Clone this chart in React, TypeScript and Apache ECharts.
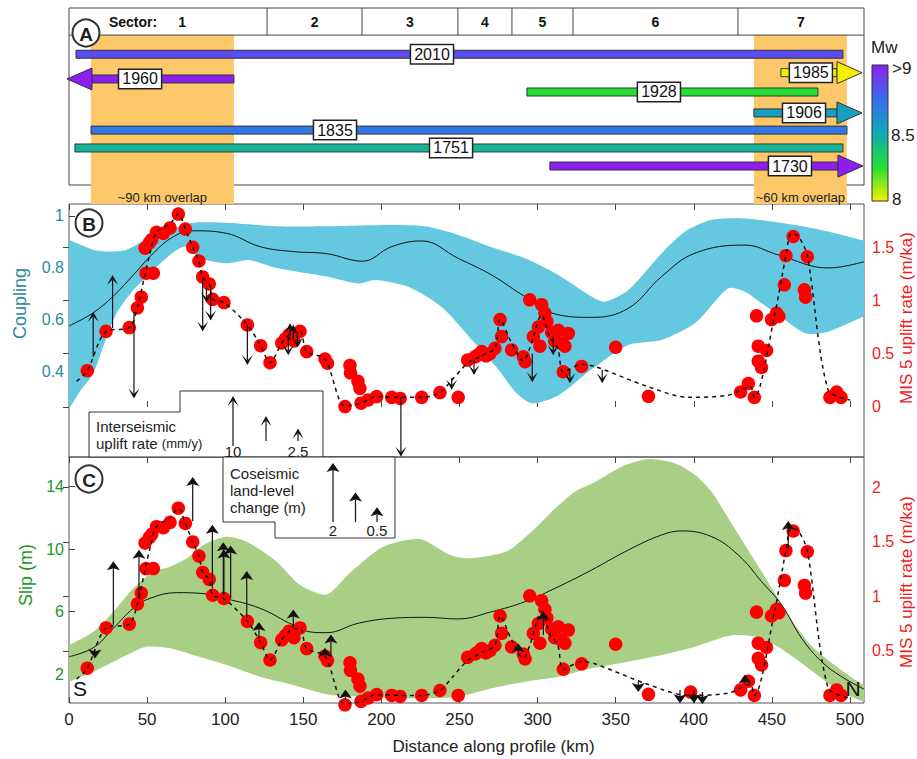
import { useEffect, useRef } from "react";
import * as echarts from "echarts";

const FONT = '"Liberation Sans", Arial, Helvetica, sans-serif';
const KM_MAX = 509;
const KM_TICKS = [0, 50, 100, 150, 200, 250, 300, 350, 400, 450, 500];

// ---------- Panel A: sectors, overlaps and historical ruptures ----------
const sectorEdgesKm = [0, 126.8, 187.6, 249, 283.6, 322.7, 428.3, 509];
const sectorNames = ["1", "2", "3", "4", "5", "6", "7"];

const overlapStartKm = [14, 438.5];
const overlapEndKm = [105.6, 498];
const overlapLabels = ["~90 km overlap", "~60 km overlap"];

const ruptureYears = ["2010", "1960", "1985", "1928", "1906", "1835", "1751", "1730"];
const ruptureStartKm = [4.5, -1.3, 455.8, 293.2, 438.5, 14.1, 3.8, 307.9];
const ruptureEndKm = [495.5, 105.6, 507.7, 479.5, 507.7, 498.1, 495.5, 508.3];
const ruptureArrow = ["none", "left", "right", "none", "right", "none", "none", "right"];
const ruptureMw = [8.85, 9.5, 8.0, 8.25, 8.55, 8.7, 8.45, 9.2];
const ruptureLane = [2.56, 3.93, 3.58, 4.65, 5.81, 6.76, 7.75, 8.75];
const ruptureLabelKm = [232.4, 45.5, 475, 377.7, 470.6, 170.3, 244.6, 461.6];

// Mw colour scale (also drawn as the colour bar)
const mwStops: [number, string][] = [
  [8.0, "#f2f200"],
  [8.25, "#22e034"],
  [8.5, "#10aab4"],
  [8.75, "#3a6cf0"],
  [9.0, "#8b1ff0"],
];
const mwBarLabels = [">9", "8.5", "8"];

// ---------- Panel B: interseismic coupling ----------
const couplingUpper: [number, number][] = [
  [-5, 0.91], [0, 0.908], [15.6, 0.87], [26.2, 0.863], [36.9, 0.87], [49.7, 0.91], [64.7, 0.946],
  [79.6, 0.974], [101, 0.974], [133, 0.96], [165, 0.96], [206.6, 0.965], [227.9, 0.96],
  [249.2, 0.927], [270.6, 0.88], [291.9, 0.837], [313.3, 0.773], [334.6, 0.69], [343.1, 0.67],
  [358.1, 0.715], [379.4, 0.856], [394.4, 0.94], [411.5, 0.985], [432.8, 0.99], [464.8, 0.965],
  [486.1, 0.94], [509, 0.905], [515, 0.9],
];
const couplingLower: [number, number][] = [
  [-5, 0.24], [0, 0.26], [7, 0.325], [15.6, 0.395], [22, 0.5], [30.5, 0.626], [41.2, 0.715],
  [51.9, 0.78], [64.7, 0.85], [74.3, 0.882], [83.9, 0.837], [101, 0.818], [115.9, 0.83],
  [133, 0.8], [165, 0.767], [185.2, 0.74], [195.9, 0.754], [217.2, 0.728], [238.6, 0.65],
  [259.9, 0.51], [274.8, 0.41], [285.5, 0.325], [296.2, 0.28], [313.3, 0.31], [334.6, 0.41],
  [358.1, 0.504], [379.4, 0.523], [400.8, 0.587], [422.1, 0.722], [432.8, 0.709], [443.5, 0.664],
  [456.3, 0.61], [471.2, 0.549], [486.1, 0.555], [509, 0.613], [515, 0.62],
];
const couplingMean: [number, number][] = [
  [0, 0.577], [15.6, 0.628], [28.4, 0.692], [41.2, 0.773], [54, 0.857], [66.8, 0.92],
  [79.6, 0.943], [101, 0.933], [122.3, 0.882], [143.6, 0.863], [165, 0.855], [188, 0.826],
  [206.6, 0.882], [225.8, 0.904], [249.2, 0.837], [270.6, 0.773], [291.9, 0.69], [313.3, 0.62],
  [334.6, 0.61], [358.1, 0.645], [379.4, 0.767], [400.8, 0.857], [432.8, 0.888], [454.1, 0.85],
  [486.1, 0.8], [509, 0.824],
];

// interseismic uplift arrows: [km, tail (m/ka axis), rate mm/y]
const interseismicArrows: [number, number, number][] = [
  [15.5, 0.47, 9], [27.9, 0.74, 10.6], [41.6, 0.89, -17.3], [85.6, 1.21, -10.7], [88, 1.12, -3],
  [90.7, 1.13, -6.8], [114.2, 0.77, -8], [140.4, 0.66, -3.7], [141.5, 0.63, 3.3], [143.6, 0.63, 3],
  [146.2, 0.69, -2.8], [212.5, 0.09, -11.9], [245, 0.27, -2.3], [259.3, 0.44, -3], [296.6, 0.5, -5.7],
  [310, 0.66, -3.7], [320.7, 0.35, -2.7], [341.4, 0.35, -2.7],
];
const interseismicLegendRates = [10, 5, 2.5];

// ---------- Panel C: coseismic slip ----------
const slipUpper: [number, number][] = [
  [-5, 3.6], [0, 3.87], [15.6, 4.72], [28.4, 6.0], [41.2, 7.5], [54, 8.56], [64.7, 8.88], [75.4, 9.42],
  [86, 10.27], [101, 10.8], [113.8, 10.48], [133, 9.2], [147.9, 7.71], [165, 7.1], [179.9, 8.5],
  [201.2, 10.16], [224.7, 10.65], [244, 9.63], [255, 9.42], [270, 9.6], [281.2, 9.9], [297, 11.2],
  [310, 12.5], [323.9, 13.68], [336.7, 14.3], [353.8, 15.28], [370.9, 15.77], [388, 15.5],
  [400.8, 14.75], [411.5, 13.68], [422.1, 11.98], [432.8, 10.27], [443.5, 8.56], [454.1, 6.86],
  [464.8, 5.15], [475.5, 3.8], [486.1, 2.9], [496.8, 2.1], [509, 1.3], [515, 1.1],
];
const slipLower: [number, number][] = [
  [-5, 1.3], [0, 1.52], [15.6, 2.16], [28.4, 2.8], [41.2, 3.44], [49.7, 3.76], [64.7, 3.66],
  [79.6, 3.23], [101, 2.59], [122.3, 1.84], [143.6, 1.31], [165, 0.72], [185.2, 0.56],
  [227.9, 0.46], [249.2, 0.56], [270.6, 1.1], [291.9, 1.52], [313.3, 1.84], [334.6, 2.38],
  [358.1, 2.8], [379.4, 3.23], [400.8, 3.76], [417.8, 4.34], [426.4, 4.51], [439.2, 4.4],
  [452, 3.87], [464.8, 3.02], [481.9, 1.74], [490.4, 1.1], [503.2, 0.46], [509, 0.25], [515, 0.2],
];
const slipMean: [number, number][] = [
  [0, 3.12], [15.6, 3.7], [28.4, 4.94], [41.2, 6.22], [51.9, 6.86], [68.9, 7.22], [83.9, 7.18],
  [101, 6.82], [122.3, 6.22], [143.6, 5.15], [156.4, 4.68], [165, 4.66], [185.2, 5.26],
  [206.6, 5.58], [227.9, 5.64], [249.2, 5.54], [270.6, 6.0], [291.9, 6.64], [313.3, 7.6],
  [334.6, 8.67], [358.1, 9.95], [379.4, 10.91], [392.3, 11.17], [411.5, 10.8], [428.5, 9.63],
  [443.5, 7.92], [456.3, 6.43], [469.1, 4.3], [481.9, 2.8], [494.7, 1.84], [509, 1.05],
];

// coseismic land-level change arrows: [km, tail (m/ka axis), change m]
const coseismicArrows: [number, number, number][] = [
  [16.6, 0.51, -0.3], [28.4, 0.74, 2.15], [44.8, 0.98, 1.65], [79.2, 1.69, 1.5], [91.8, 1.075, 2.15],
  [98.8, 1.01, 1.8], [99.2, 1.01, 1.55], [103.5, 0.98, 1.8], [113.8, 0.8, 1.6], [121.6, 0.61, 0.57],
  [143.6, 0.71, 0.62], [163.9, 0.46, 0.25], [167.7, 0.445, 0.75], [177, 0.05, 0.35], [287.6, 0.46, 0.4],
  [303.7, 0.645, 0.8], [364.5, 0.215, -0.35], [391.2, 0.14, -0.45], [400.1, 0.14, -0.45],
  [405.5, 0.12, -0.4], [432.8, 0.2, 0.3], [460.5, 1.43, 0.97],
];
const coseismicLegendChanges = [2, 1, 0.5];

// ---------- MIS 5 marine terrace uplift rates (both panels) ----------
const mis5Dots: [number, number][] = [
  [11.7, 0.34], [23.7, 0.71], [38.6, 0.745], [43.8, 0.93], [46.3, 1.03], [48.7, 1.49], [49.3, 1.255],
  [51.4, 1.54], [53, 1.57], [54, 1.255], [56, 1.64], [60.4, 1.63], [64.7, 1.68], [70, 1.81],
  [74.5, 1.67], [79.2, 1.5], [83.2, 1.37], [85.6, 1.22], [89.8, 1.155], [92, 1.01], [99.2, 0.98],
  [114.2, 0.77], [122.7, 0.575], [128.7, 0.415], [136.2, 0.6], [138.5, 0.64], [141, 0.68],
  [144, 0.62], [147.9, 0.71], [152.2, 0.52], [163.9, 0.45], [165.5, 0.41], [176.7, 0.003],
  [179.9, 0.39], [180.2, 0.32], [185, 0.24], [186.3, 0.175], [187, 0.035], [191.6, 0.066],
  [197, 0.097], [206.6, 0.09], [212, 0.08], [225.8, 0.09], [237.5, 0.135], [249.2, 0.09],
  [255.2, 0.44], [260, 0.47], [262, 0.49], [264.2, 0.52], [267, 0.48], [269.5, 0.5], [272.7, 0.55],
  [276, 0.82], [277, 0.66], [283.4, 0.535], [290.9, 0.47], [292, 0.425], [295, 1.005], [297.3, 0.66],
  [300.5, 0.75], [301.5, 0.57], [302.6, 0.96], [304.7, 0.88], [306, 0.8], [309, 0.7], [311, 0.62],
  [313.3, 0.72], [315, 0.6], [316.5, 0.33], [317.5, 0.57], [319.7, 0.69], [328.2, 0.38], [350, 0.56],
  [371, 0.1], [430, 0.14], [435, 0.22], [438.8, 0.09], [440.2, 0.855], [441.3, 0.57], [441.3, 0.43],
  [443.4, 0.37], [446.6, 0.53], [449.8, 0.82], [453, 0.88], [454.5, 0.85], [458, 1.146], [459, 1.42],
  [463.7, 1.6], [470.8, 1.1], [471.6, 1.03], [472.7, 1.41], [487.2, 0.09], [491.5, 0.14], [494.3, 0.09],
];
const mis5ExtraDotsC: [number, number][] = [[398, 0.12]];
const mis5Trend: [number, number][] = [
  [4.9, 0.24], [11.7, 0.34], [23.7, 0.71], [38.6, 0.745], [43.8, 0.93], [48, 1.2], [52, 1.45],
  [56, 1.64], [64.7, 1.72], [70, 1.81], [74.5, 1.67], [79.2, 1.5], [83.2, 1.37], [85.6, 1.22],
  [89.8, 1.155], [92, 1.01], [99.2, 0.98], [114.2, 0.77], [122.7, 0.575], [128.7, 0.415],
  [136.2, 0.6], [141, 0.68], [147.9, 0.71], [152.2, 0.52], [163.9, 0.45], [176.7, 0.01],
  [187, 0.035], [197, 0.097], [212, 0.09], [225.8, 0.09], [237.5, 0.135], [245, 0.25],
  [255.2, 0.41], [264, 0.48], [272.7, 0.55], [276, 0.82], [283.4, 0.6], [291, 0.43], [295, 0.55],
  [302.6, 0.86], [308, 0.65], [313, 0.55], [316.5, 0.33], [328.2, 0.4], [336.7, 0.38],
  [370.8, 0.19], [396.5, 0.09], [422, 0.11], [436, 0.19], [438.8, 0.09], [452, 0.88], [459, 1.42],
  [462.5, 1.63], [467, 1.6], [472.7, 1.42], [486, 0.16], [500, 0.065],
];

// ---------- helpers ----------
const TEAL = "#2a8a9c";
const GREEN = "#1e961e";
const RED = "#f21a1a";
const FRAME = "#555";
const INTER_PX_PER_MMY = 5;
const COSEIS_PX_PER_M = 29.5;
const UPLIFT_TITLE = "MIS 5 uplift rate (m/ka)";

function hexToRgb(h: string) {
  const n = parseInt(h.slice(1), 16);
  return [(n >> 16) & 255, (n >> 8) & 255, n & 255];
}
function mwColor(mw: number): string {
  const lo = mwStops[0][0];
  const hi = mwStops[mwStops.length - 1][0];
  const m = Math.max(lo, Math.min(hi, mw));
  for (let k = 0; k < mwStops.length - 1; k++) {
    const [a, ca] = mwStops[k];
    const [b, cb] = mwStops[k + 1];
    if (m >= a && m <= b) {
      const t = (m - a) / (b - a);
      const c1 = hexToRgb(ca);
      const c2 = hexToRgb(cb);
      const c = c1.map((v, j) => Math.round(v + (c2[j] - v) * t));
      return `rgb(${c[0]},${c[1]},${c[2]})`;
    }
  }
  return mwStops[mwStops.length - 1][1];
}

// vertical arrow glyph; "chevron" (barbed head) or "solid"
function arrowGlyph(x: number, tailY: number, tipY: number, kind: "chevron" | "solid", z?: number) {
  const s = tipY <= tailY ? 1 : -1; // 1: pointing up
  const hl = kind === "chevron" ? 10 : 9;
  const hw = kind === "chevron" ? 5.5 : 6.5;
  const notch = kind === "chevron" ? 4.5 : 7;
  const back = tipY + s * hl;
  const notchY = tipY + s * notch;
  const zz = z == null ? {} : { z };
  return [
    {
      type: "line",
      ...zz,
      shape: { x1: x, y1: tailY, x2: x, y2: notchY },
      style: { stroke: "#111", lineWidth: 1.2 },
    },
    {
      type: "polygon",
      ...zz,
      shape: { points: [[x, tipY], [x - hw, back], [x, notchY], [x + hw, back]] },
      style: { fill: "#111" },
    },
  ];
}

function bandSeries(xi: number, yi: number, upper: [number, number][], lower: [number, number][], color: string, z: number) {
  return {
    type: "custom",
    xAxisIndex: xi,
    yAxisIndex: yi,
    clip: true,
    z,
    silent: true,
    data: [[upper[1][0], upper[1][1]]],
    renderItem: (_p: any, api: any) => {
      const pts = upper.map((p) => api.coord(p)).concat(lower.slice().reverse().map((p) => api.coord(p)));
      return { type: "polygon", shape: { points: pts, smooth: 0.25 }, style: { fill: color } };
    },
  };
}

function kmAxis(gridIndex: number, position: string, showLabels: boolean, extra: any = {}) {
  return {
    type: "value",
    gridIndex,
    position,
    min: 0,
    max: KM_MAX,
    axisLine: { show: false },
    axisTick: { show: true, inside: true, length: 6, customValues: KM_TICKS, lineStyle: { color: "#444" } },
    axisLabel: { show: showLabels, customValues: KM_TICKS, fontSize: 17, color: "#222", margin: 8, fontFamily: FONT },
    splitLine: { show: false },
    ...extra,
  };
}

function valueAxis(
  gridIndex: number,
  position: string,
  min: number,
  max: number,
  ticks: number[],
  color: string,
  name?: string,
  nameGap = 0,
  pad: number[] = [0, 0, 0, 0],
) {
  return {
    type: "value",
    gridIndex,
    position,
    min,
    max,
    axisLine: { show: false },
    axisTick: { show: true, inside: true, length: 6, customValues: ticks, lineStyle: { color: "#444" } },
    axisLabel: { customValues: ticks, color, fontSize: 16, margin: position === "left" ? 5 : 8, fontFamily: FONT },
    splitLine: { show: false },
    name,
    nameLocation: "middle",
    nameGap,
    nameTextStyle: { color, fontSize: 18, fontFamily: FONT, padding: pad },
  };
}

function panelBadge(letter: string, x: number, y: number) {
  return {
    type: "group",
    children: [
      { type: "circle", z: 100, shape: { cx: x, cy: y, r: 13.5 }, style: { fill: "#fff", stroke: "#333", lineWidth: 2 } },
      {
        type: "text",
        z: 101,
        x,
        y: y + 1,
        style: { text: letter, font: `bold 19px ${FONT}`, fill: "#222", align: "center", verticalAlign: "middle" },
      },
    ],
  };
}

export default function App() {
  const ref = useRef<HTMLDivElement>(null);

  useEffect(() => {
    document.body.style.margin = "0";
    if (!ref.current) return;
    const chart = echarts.init(ref.current, undefined, { renderer: "svg" });

    const SECTOR_ROW_LANE = 1.5;
    const OVERLAP_BOTTOM_LANE = 10.85;
    const OVERLAP_TEXT_LANE = 10.47;

    // legend glyphs (pixel layout of the legend boxes)
    const interLegend: any[] = [];
    const interLegendX = [233, 266, 298];
    interseismicLegendRates.forEach((r, i) => {
      const tail = i === 0 ? 446 : 441;
      interLegend.push(...arrowGlyph(interLegendX[i], tail, tail - r * INTER_PX_PER_MMY, "chevron", 62));
    });
    const coLegend: any[] = [];
    const coLegendX = [333, 355.5, 377];
    coseismicLegendChanges.forEach((c, i) => {
      coLegend.push(...arrowGlyph(coLegendX[i], 522, 522 - c * COSEIS_PX_PER_M, "solid", 62));
    });

    const gradStops = mwStops
      .slice()
      .reverse()
      .map(([mw, c]) => ({ offset: (9 - mw) / 1, color: c }));

    const txt = (x: number, y: number, text: string, size: number, align = "left", extra: any = {}) => ({
      type: "text",
      x,
      y,
      z: 61,
      style: { text, font: `${size}px ${FONT}`, fill: "#222", align, verticalAlign: "middle", ...extra },
    });

    const gridBase = { show: true, borderWidth: 1, outerBoundsMode: "none", containLabel: false };

    const option: any = {
      animation: false,
      textStyle: { fontFamily: FONT },
      grid: [
        { ...gridBase, left: 69, top: 8, width: 795, height: 177, borderColor: "#444", backgroundColor: "transparent" },
        { ...gridBase, left: 69, top: 204, width: 795, height: 253, borderColor: FRAME },
        { ...gridBase, left: 69, top: 457, width: 795, height: 246, borderColor: FRAME },
      ],
      xAxis: [
        { type: "value", gridIndex: 0, min: 0, max: KM_MAX, show: false },
        kmAxis(1, "bottom", false),
        kmAxis(1, "top", false),
        kmAxis(2, "bottom", true, {
          name: "Distance along profile (km)",
          nameLocation: "middle",
          nameGap: 35,
          nameTextStyle: { fontSize: 17, color: "#222", fontFamily: FONT, padding: [0, 0, 0, 54] },
        }),
        kmAxis(2, "top", false),
      ],
      yAxis: [
        { type: "value", gridIndex: 0, min: 0, max: 9.8, inverse: true, show: false },
        valueAxis(1, "left", 0.073, 1.046, [0.4, 0.6, 0.8, 1], TEAL, "Coupling", 40, [0, 0, 0, 54]),
        valueAxis(1, "right", -0.47, 1.905, [0, 0.5, 1, 1.5], RED),
        valueAxis(2, "left", 0.16, 15.9, [2, 6, 10, 14], GREEN, "Slip (m)", 32, [0, 0, 0, 10]),
        valueAxis(2, "right", 0.02, 2.28, [0.5, 1, 1.5, 2], RED),
      ],
      series: [
        // ----- Panel A -----
        {
          type: "custom",
          xAxisIndex: 0,
          yAxisIndex: 0,
          clip: false,
          z: 1,
          silent: true,
          data: overlapLabels.map((_, i) => [overlapStartKm[i], SECTOR_ROW_LANE]),
          renderItem: (p: any, api: any) => {
            const i = p.dataIndex;
            const a = api.coord([overlapStartKm[i], SECTOR_ROW_LANE]);
            const b = api.coord([overlapEndKm[i], OVERLAP_BOTTOM_LANE]);
            const t = api.coord([(overlapStartKm[i] + overlapEndKm[i]) / 2, OVERLAP_TEXT_LANE]);
            return {
              type: "group",
              children: [
                { type: "rect", shape: { x: a[0], y: a[1], width: b[0] - a[0], height: b[1] - a[1] }, style: { fill: "#fdc86a" } },
                {
                  type: "text",
                  x: t[0],
                  y: t[1],
                  style: { text: overlapLabels[i], font: `13px ${FONT}`, fill: "#222", align: "center", verticalAlign: "middle" },
                },
              ],
            };
          },
        },
        {
          type: "custom",
          xAxisIndex: 0,
          yAxisIndex: 0,
          clip: false,
          z: 2,
          silent: true,
          data: sectorNames.map((_, i) => [(sectorEdgesKm[i] + sectorEdgesKm[i + 1]) / 2, SECTOR_ROW_LANE / 2]),
          renderItem: (p: any, api: any) => {
            const i = p.dataIndex;
            const children: any[] = [];
            const top = api.coord([0, 0])[1];
            const bottom = api.coord([0, SECTOR_ROW_LANE])[1];
            if (i === 0) {
              const l = api.coord([0, SECTOR_ROW_LANE]);
              const r = api.coord([KM_MAX, SECTOR_ROW_LANE]);
              children.push({ type: "line", shape: { x1: l[0], y1: l[1], x2: r[0], y2: r[1] }, style: { stroke: "#444", lineWidth: 1 } });
            } else {
              const x = api.coord([sectorEdgesKm[i], 0])[0];
              children.push({ type: "line", shape: { x1: x, y1: top, x2: x, y2: bottom }, style: { stroke: "#444", lineWidth: 1 } });
            }
            const c = api.coord([(sectorEdgesKm[i] + sectorEdgesKm[i + 1]) / 2, SECTOR_ROW_LANE / 2]);
            children.push({
              type: "text",
              x: c[0] + (i === 0 ? 14 : 0),
              y: c[1],
              style: { text: sectorNames[i], font: `bold 14px ${FONT}`, fill: "#111", align: "center", verticalAlign: "middle" },
            });
            return { type: "group", children };
          },
        },
        {
          type: "custom",
          xAxisIndex: 0,
          yAxisIndex: 0,
          clip: false,
          z: 3,
          silent: true,
          data: ruptureYears.map((_, i) => [ruptureStartKm[i], ruptureLane[i]]),
          renderItem: (p: any, api: any) => {
            const i = p.dataIndex;
            const y = api.coord([0, ruptureLane[i]])[1];
            const x0 = api.coord([ruptureStartKm[i], 0])[0];
            const x1 = api.coord([ruptureEndKm[i], 0])[0];
            const color = mwColor(ruptureMw[i]);
            const bh = 8;
            const hl = 25;
            const hw = 11;
            const dir = ruptureArrow[i];
            const bx0 = dir === "left" ? x0 + hl : x0;
            const bx1 = dir === "right" ? x1 - hl : x1;
            const children: any[] = [
              { type: "rect", shape: { x: bx0, y: y - bh / 2, width: bx1 - bx0, height: bh }, style: { fill: color, stroke: "#333", lineWidth: 1 } },
            ];
            if (dir === "right") {
              children.push({
                type: "polygon",
                shape: { points: [[x1 - hl, y - hw], [x1, y], [x1 - hl, y + hw]] },
                style: { fill: color, stroke: "#333", lineWidth: 1 },
              });
            }
            if (dir === "left") {
              children.push({
                type: "polygon",
                shape: { points: [[x0 + hl, y - hw], [x0, y], [x0 + hl, y + hw]] },
                style: { fill: color, stroke: "#333", lineWidth: 1 },
              });
            }
            const lx = api.coord([ruptureLabelKm[i], 0])[0];
            children.push({
              type: "text",
              x: lx,
              y: y,
              z2: 10,
              style: {
                text: ruptureYears[i],
                font: `16px ${FONT}`,
                fill: "#111",
                align: "center",
                verticalAlign: "middle",
                backgroundColor: "#fff",
                borderColor: "#222",
                borderWidth: 1.5,
                padding: [2, 3, 0, 3],
              },
            });
            return { type: "group", children };
          },
        },

        // ----- Panel B -----
        bandSeries(1, 1, couplingUpper, couplingLower, "#64c8e0", 1),
        {
          type: "line",
          xAxisIndex: 1,
          yAxisIndex: 1,
          data: couplingMean,
          smooth: 0.4,
          showSymbol: false,
          z: 2,
          lineStyle: { color: "#111", width: 1 },
        },
        {
          type: "scatter",
          xAxisIndex: 1,
          yAxisIndex: 2,
          data: mis5Dots,
          symbolSize: 13.5,
          z: 3,
          itemStyle: { color: "#ff0000", opacity: 1 },
        },
        {
          type: "line",
          xAxisIndex: 1,
          yAxisIndex: 2,
          data: mis5Trend,
          smooth: 0.3,
          showSymbol: false,
          z: 4,
          lineStyle: { color: "#111", width: 1.5, type: [4, 4] },
        },
        {
          type: "custom",
          xAxisIndex: 1,
          yAxisIndex: 2,
          clip: false,
          z: 5,
          silent: true,
          data: interseismicArrows.map((a) => [a[0], a[1]]),
          renderItem: (p: any, api: any) => {
            const [km, tail, rate] = interseismicArrows[p.dataIndex];
            const pt = api.coord([km, tail]);
            return { type: "group", children: arrowGlyph(pt[0], pt[1], pt[1] - rate * INTER_PX_PER_MMY, "chevron") };
          },
        },

        // ----- Panel C -----
        bandSeries(3, 3, slipUpper, slipLower, "#a9cf87", 1),
        {
          type: "line",
          xAxisIndex: 3,
          yAxisIndex: 3,
          data: slipMean,
          smooth: 0.4,
          showSymbol: false,
          z: 2,
          lineStyle: { color: "#111", width: 1 },
        },
        {
          type: "scatter",
          xAxisIndex: 3,
          yAxisIndex: 4,
          data: mis5Dots.concat(mis5ExtraDotsC),
          symbolSize: 13.5,
          clip: false,
          z: 3,
          itemStyle: { color: "#ff0000", opacity: 1 },
        },
        {
          type: "line",
          xAxisIndex: 3,
          yAxisIndex: 4,
          data: mis5Trend,
          smooth: 0.3,
          showSymbol: false,
          z: 4,
          lineStyle: { color: "#111", width: 1.5, type: [4, 4] },
        },
        {
          type: "custom",
          xAxisIndex: 3,
          yAxisIndex: 4,
          clip: false,
          z: 5,
          silent: true,
          data: coseismicArrows.map((a) => [a[0], a[1]]),
          renderItem: (p: any, api: any) => {
            const [km, tail, change] = coseismicArrows[p.dataIndex];
            const pt = api.coord([km, tail]);
            return { type: "group", children: arrowGlyph(pt[0], pt[1], pt[1] - change * COSEIS_PX_PER_M, "solid") };
          },
        },
      ],
      graphic: [
        {
          type: "text",
          x: 133,
          y: 22,
          z: 50,
          style: { text: "Sector:", font: `bold 14px ${FONT}`, fill: "#111", align: "center", verticalAlign: "middle" },
        },
        panelBadge("A", 86, 33),
        panelBadge("B", 89, 223),
        panelBadge("C", 89, 479),
        // right-hand axis titles
        {
          type: "text",
          x: 906,
          y: 318,
          rotation: Math.PI / 2,
          z: 50,
          style: { text: UPLIFT_TITLE, font: `17px ${FONT}`, fill: RED, align: "center", verticalAlign: "middle" },
        },
        {
          type: "text",
          x: 906,
          y: 582,
          rotation: Math.PI / 2,
          z: 50,
          style: { text: UPLIFT_TITLE, font: `17px ${FONT}`, fill: RED, align: "center", verticalAlign: "middle" },
        },
        // Mw colour bar
        {
          type: "rect",
          z: 50,
          shape: { x: 872, y: 65, width: 16, height: 136 },
          style: { fill: new echarts.graphic.LinearGradient(0, 0, 0, 1, gradStops), stroke: "#333", lineWidth: 1 },
        },
        txt(871, 47, "Mw", 17),
        txt(892, 68, mwBarLabels[0], 17),
        txt(891, 135, mwBarLabels[1], 17),
        txt(892, 199, mwBarLabels[2], 17),
        // interseismic legend
        {
          type: "polygon",
          z: 60,
          shape: { points: [[89, 457], [89, 412], [180, 412], [180, 391], [323, 391], [323, 457]] },
          style: { fill: "#fff", stroke: "#333", lineWidth: 1 },
        },
        txt(96, 426, "Interseismic", 15),
        txt(96, 443, "uplift rate {s|(mm/y)}", 15, "left", { rich: { s: { fontSize: 13, fontFamily: FONT, fill: "#222" } } }),
        { type: "group", children: interLegend },
        txt(233, 451, "10", 15, "center"),
        txt(298, 451, "2.5", 15, "center"),
        // coseismic legend
        {
          type: "polygon",
          z: 60,
          shape: { points: [[223, 457], [223, 522], [275, 522], [275, 538], [395, 538], [395, 457]] },
          style: { fill: "#fff", stroke: "#333", lineWidth: 1 },
        },
        txt(230, 473, "Coseismic", 15),
        txt(230, 490, "land-level", 15),
        txt(230, 507, "change (m)", 15),
        { type: "group", children: coLegend },
        txt(333, 530, "2", 15, "center"),
        txt(377, 530, "0.5", 15, "center"),
        // profile ends
        txt(80, 688, "S", 21, "center", { fill: "#111" }),
        txt(853, 688, "N", 21, "center", { fill: "#111" }),
      ],
    };

    chart.setOption(option);
    return () => chart.dispose();
  }, []);

  return <div ref={ref} style={{ width: 917, height: 759 }} />;
}
